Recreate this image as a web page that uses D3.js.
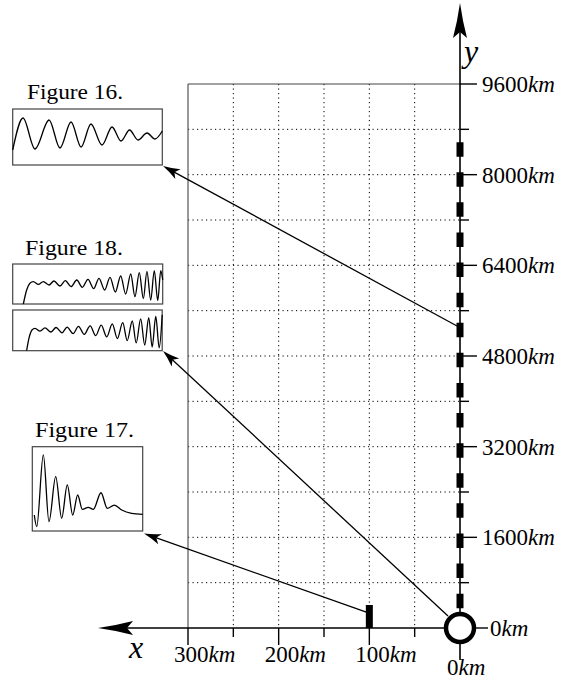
<!DOCTYPE html>
<html><head><meta charset="utf-8">
<script src="https://cdn.jsdelivr.net/npm/d3@7"></script>
<style>body{margin:0;background:#fff} svg{display:block}
svg text{font-family:"Liberation Serif","Times New Roman",serif;}</style>
</head><body>
<svg id="c" width="561" height="680"></svg>
<script>
// ---------- data ----------
const xTicksMajor = [100, 200, 300];          // km along x
const xTicksMinor = [50, 150, 250];
const yTicksMajor = [1600, 3200, 4800, 6400, 8000, 9600]; // km along y
const yTicksMinor = [800, 2400, 4000, 5600, 7200, 8800];
const stationX = [100];                        // receiver on x axis (km)
const dashedLineKm = [350, 8580];              // receiver line along y (km)
const fig16SourceKm = [0, 5330];
const fig18SourceKm = [0, 0];
const fig17SourceKm = [100, 280];

// inset signals: [time %, amplitude %]
const fig16Signal = [[0,26.8],[6.9,83.9],[14.9,28.6],[24.3,80.4],[31.6,30.4],[39.0,76.8],[45.7,32.1],[52.3,73.2],[59.7,35.7],[66.4,67.9],[72.4,42.9],[78.1,62.5],[83.8,44.6],[89.8,57.1],[95.1,46.4],[100,60.7]];
const fig18SignalA = [[7.1,0],[9.3,35],[11.5,51.7],[13.7,55.8],[17.1,49],[20.4,55.8],[24.2,47.5],[27.5,57.5],[31.5,45],[35.1,58.3],[38.9,43.3],[42.7,60],[46.4,41.7],[50.2,61.7],[54,38.3],[57.5,64.2],[61.3,35],[64.9,66.7],[68.4,30],[72,70],[75.3,25],[78.7,75],[81.5,18.3],[84.4,78.3],[87.1,13.3],[89.5,81.7],[92,10],[94.4,83.3],[96.7,8.3],[98.7,83.3],[100,60]];
const fig18SignalB = [[9.3,0],[10.9,31],[12.9,51],[14.9,55],[18.3,48],[21.6,56],[25.6,46],[29,57],[33,44],[36.4,58],[40.4,42],[44,60],[47.8,40],[51.8,61],[55.5,37],[59.2,63],[62.9,34],[66.6,66],[70,30],[73.6,69],[76.6,25],[80,73],[82.6,19],[85.6,78],[88.3,14],[91,81],[93.3,9],[95.7,84],[98,7],[100,88]];
const fig17Signal = [[1.8,19],[4,5.1],[10,90.2],[15.1,11],[21.2,64.4],[26.6,15.1],[31.7,54.6],[36.6,19],[41.1,42.7],[45.3,25.7],[50.7,28.1],[55.3,25.7],[62.2,45.4],[67.9,26.9],[74.3,30.8],[81,24.9],[90,21],[100,19.8]];

// ---------- layout ----------
const svg = d3.select("#c");
const x = d3.scaleLinear().domain([0, 300]).range([460, 188]);
const y = d3.scaleLinear().domain([0, 9600]).range([628, 84]);

function arrowHead(tip, from, len, hw, notch) {
  const dx = tip[0]-from[0], dy = tip[1]-from[1], L = Math.hypot(dx,dy);
  const ux = dx/L, uy = dy/L, nx = -uy, ny = ux;
  const bx = tip[0]-ux*len, by = tip[1]-uy*len;
  const mx = tip[0]-ux*(len-notch), my = tip[1]-uy*(len-notch);
  const cx1 = tip[0]-ux*len*0.5 + nx*hw*0.35, cy1 = tip[1]-uy*len*0.5 + ny*hw*0.35;
  const cx2 = tip[0]-ux*len*0.5 - nx*hw*0.35, cy2 = tip[1]-uy*len*0.5 - ny*hw*0.35;
  svg.append("path")
    .attr("d", `M${tip[0]},${tip[1]} Q${cx1},${cy1} ${bx+nx*hw},${by+ny*hw} L${mx},${my} L${bx-nx*hw},${by-ny*hw} Q${cx2},${cy2} ${tip[0]},${tip[1]} Z`)
    .attr("fill", "#000");
}

// grid (dotted)
const gridX = xTicksMinor.concat([100, 200]);
svg.append("g").selectAll("line").data(gridX).join("line")
  .attr("x1", d=>x(d)).attr("x2", d=>x(d)).attr("y1", y(9600)).attr("y2", y(0))
  .attr("stroke", "#000").attr("stroke-width", 1).attr("stroke-dasharray", "1.2,3.3");
const gridY = yTicksMinor.concat(yTicksMajor.filter(d=>d<9600));
svg.append("g").selectAll("line").data(gridY).join("line")
  .attr("x1", x(300)).attr("x2", x(0)).attr("y1", d=>y(d)).attr("y2", d=>y(d))
  .attr("stroke", "#000").attr("stroke-width", 1).attr("stroke-dasharray", "1.2,3.3");
// frame: top and left
svg.append("line").attr("x1", x(300)).attr("x2", x(0)).attr("y1", y(9600)).attr("y2", y(9600))
  .attr("stroke", "#444").attr("stroke-width", 1.2);
svg.append("line").attr("x1", x(300)).attr("x2", x(300)).attr("y1", y(9600)).attr("y2", y(0))
  .attr("stroke", "#555").attr("stroke-width", 1.2);

// axes
svg.append("line").attr("x1", 104).attr("x2", x(0)).attr("y1", y(0)).attr("y2", y(0))
  .attr("stroke", "#000").attr("stroke-width", 1.6);
arrowHead([98, y(0)], [200, y(0)], 35, 7, 6);
svg.append("line").attr("x1", x(0)).attr("x2", x(0)).attr("y1", 660).attr("y2", 10)
  .attr("stroke", "#000").attr("stroke-width", 1.6);
arrowHead([x(0), 3], [x(0), 200], 35, 7, 6);

// x ticks
svg.append("g").selectAll("line").data(xTicksMajor).join("line")
  .attr("x1", d=>x(d)).attr("x2", d=>x(d)).attr("y1", y(0)).attr("y2", y(0)+17)
  .attr("stroke", "#000").attr("stroke-width", 1.4);
svg.append("g").selectAll("line").data(xTicksMinor).join("line")
  .attr("x1", d=>x(d)).attr("x2", d=>x(d)).attr("y1", y(0)).attr("y2", y(0)+9)
  .attr("stroke", "#000").attr("stroke-width", 1.4);
// y ticks
svg.append("g").selectAll("line").data(yTicksMajor).join("line")
  .attr("x1", x(0)).attr("x2", x(0)+17).attr("y1", d=>y(d)).attr("y2", d=>y(d))
  .attr("stroke", "#000").attr("stroke-width", 1.4);
svg.append("g").selectAll("line").data(yTicksMinor).join("line")
  .attr("x1", x(0)).attr("x2", x(0)+9).attr("y1", d=>y(d)).attr("y2", d=>y(d))
  .attr("stroke", "#000").attr("stroke-width", 1.4);
svg.append("line").attr("x1", x(0)).attr("x2", x(0)+28).attr("y1", y(0)).attr("y2", y(0))
  .attr("stroke", "#000").attr("stroke-width", 1.4);

// receiver line along y (thick dashes)
svg.append("line").attr("x1", x(0)).attr("x2", x(0))
  .attr("y1", y(dashedLineKm[0])).attr("y2", y(dashedLineKm[1]))
  .attr("stroke", "#000").attr("stroke-width", 7).attr("stroke-dasharray", "14.5,15.6");

// insets
const insets = [
  {label: "Figure 16.", lx: 27, ly: 99, lw: 96, boxes: [{x0: 12.7, y0: 109, w: 149.6, h: 56, data: fig16Signal}]},
  {label: "Figure 18.", lx: 25, ly: 255, lw: 98, boxes: [{x0: 12.7, y0: 264, w: 150, h: 40, data: fig18SignalA},
                                                         {x0: 12.7, y0: 310, w: 149.5, h: 40.7, data: fig18SignalB}]},
  {label: "Figure 17.", lx: 35, ly: 437, lw: 99, boxes: [{x0: 32.3, y0: 446.7, w: 110.4, h: 84.3, data: fig17Signal}]}
];
insets.forEach(ins => {
  svg.append("text").attr("x", ins.lx).attr("y", ins.ly).text(ins.label)
    .attr("font-size", 20)
    .attr("textLength", ins.lw).attr("lengthAdjust", "spacingAndGlyphs");
  ins.boxes.forEach(b => {
    svg.append("rect").attr("x", b.x0).attr("y", b.y0).attr("width", b.w).attr("height", b.h)
      .attr("fill", "#fff").attr("stroke", "#444").attr("stroke-width", 1.2);
    const sx = d3.scaleLinear().domain([0, 100]).range([b.x0, b.x0 + b.w]);
    const sy = d3.scaleLinear().domain([0, 100]).range([b.y0 + b.h, b.y0]);
    svg.append("path").datum(b.data)
      .attr("d", d3.line().x(d=>sx(d[0])).y(d=>sy(d[1])).curve(d3.curveMonotoneX))
      .attr("fill", "none").attr("stroke", "#000").attr("stroke-width", 1.3);
  });
});

// annotation arrows
function annot(src, tip) {
  const dx = tip[0]-src[0], dy = tip[1]-src[1], L = Math.hypot(dx, dy);
  svg.append("line").attr("x1", src[0]).attr("y1", src[1])
    .attr("x2", tip[0]-dx/L*8).attr("y2", tip[1]-dy/L*8)
    .attr("stroke", "#000").attr("stroke-width", 1.3);
  arrowHead(tip, src, 17, 5.5, 4);
}
annot([x(fig16SourceKm[0]) - 3, y(fig16SourceKm[1])], [163, 166]);
annot([x(fig18SourceKm[0]) - 12, y(fig18SourceKm[1]) - 12], [163, 351]);
annot([x(fig17SourceKm[0]) - 3, y(fig17SourceKm[1])], [144, 533.5]);

// station bar on x axis
svg.append("g").selectAll("rect").data(stationX).join("rect")
  .attr("x", d=>x(d)-3.5).attr("y", y(0)-23).attr("width", 7).attr("height", 23).attr("fill", "#000");

// source circle at origin
svg.append("circle").attr("cx", x(0)).attr("cy", y(0)).attr("r", 14)
  .attr("fill", "#fff").attr("stroke", "#000").attr("stroke-width", 4.5);

// labels
function kmLabel(sel, val) {
  sel.append("tspan").text(val);
  sel.append("tspan").text("km").attr("font-style", "italic");
}
yTicksMajor.forEach(d => {
  const t = svg.append("text").attr("x", 482).attr("y", y(d)+8).attr("font-size", 23);
  kmLabel(t, d);
});
{ const t = svg.append("text").attr("x", 490).attr("y", 636).attr("font-size", 23); kmLabel(t, 0); }
xTicksMajor.forEach(d => {
  const t = svg.append("text").attr("x", x(d)-14).attr("y", 662).attr("font-size", 23);
  kmLabel(t, d);
});
{ const t = svg.append("text").attr("x", 447).attr("y", 675).attr("font-size", 23); kmLabel(t, 0); }
svg.append("text").attr("x", 129).attr("y", 658).text("x")
  .attr("font-style", "italic").attr("font-size", 32);
svg.append("text").attr("x", 464).attr("y", 62).text("y")
  .attr("font-style", "italic").attr("font-size", 32);
</script>
</body></html>
